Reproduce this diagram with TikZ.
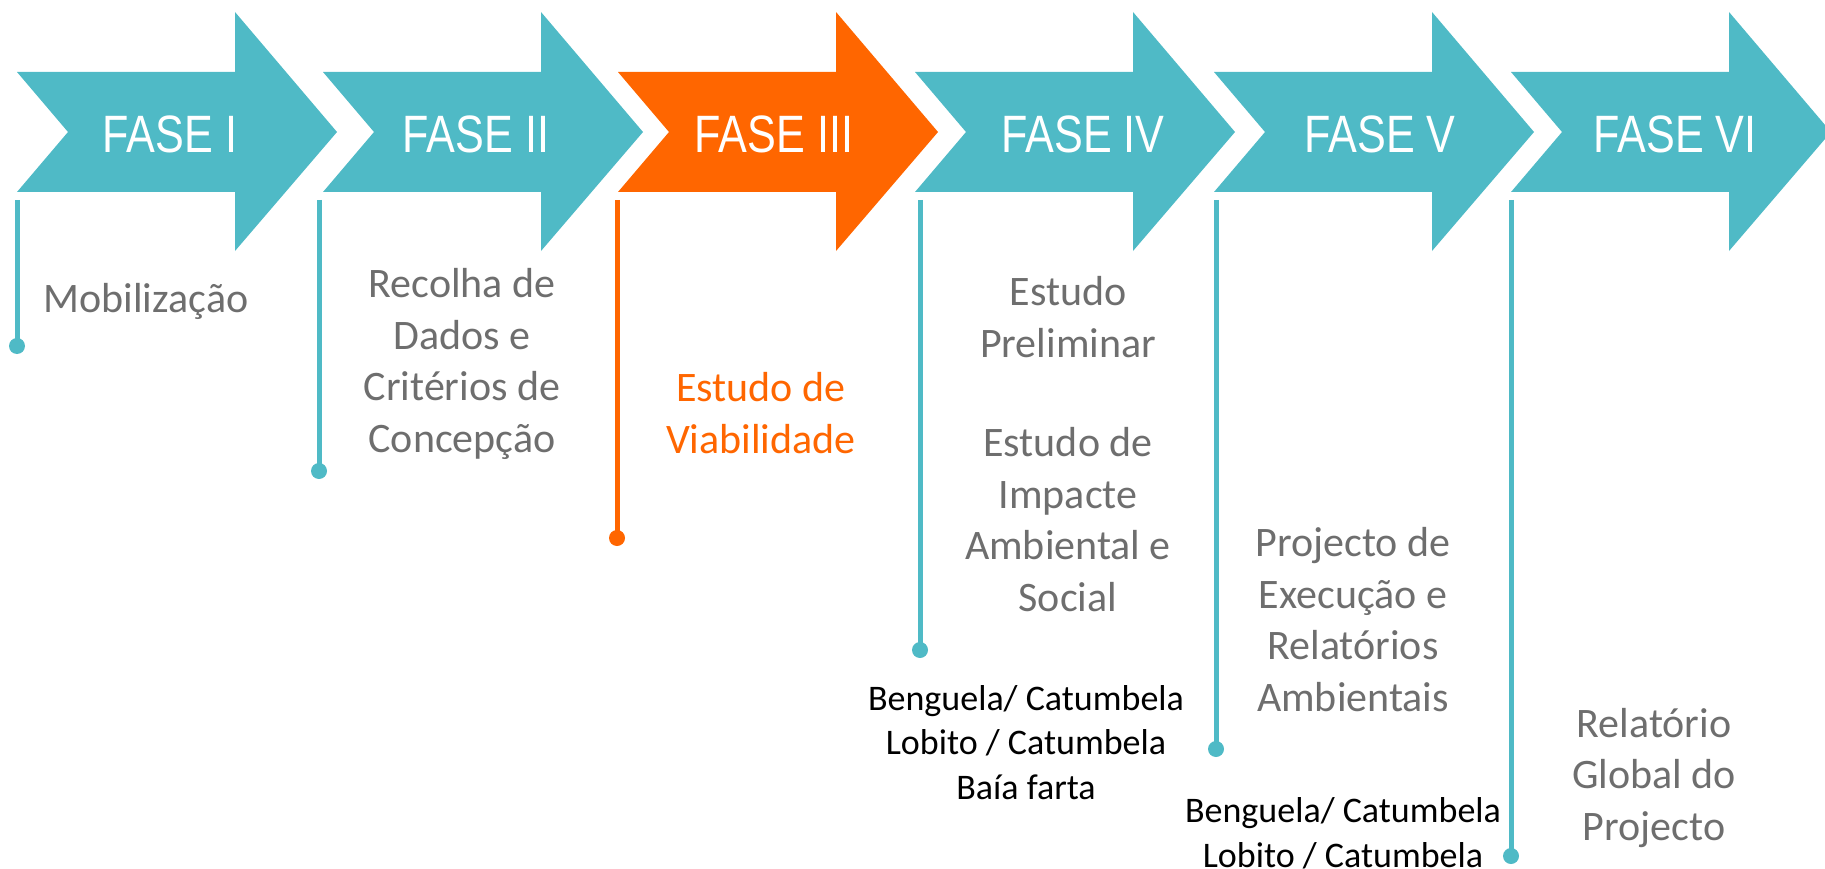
\documentclass[tikz,border=0pt]{standalone}
\usepackage{fontspec}
\setmainfont{Carlito}
\newfontfamily\fasefont[FakeStretch=0.82]{Liberation Sans}
\definecolor{faseteal}{RGB}{79,186,198}
\definecolor{faseorange}{RGB}{255,102,0}
\definecolor{fasegrey}{RGB}{110,110,110}
\begin{document}
\begin{tikzpicture}[x=1pt,y=-1pt,
  fasearrow/.pic={\path[pic actions] (0,72) -- (218,72) -- (218,12) -- (320,132) -- (218,251) -- (218,192) -- (0,192) -- (51,132) -- cycle;},
  fasetext/.style={font=\fasefont\fontsize{52.6}{60}\selectfont, text=white, anchor=base, inner sep=0pt},
  desc/.style={font=\fontsize{42}{51.5}\selectfont, text=fasegrey, align=center, anchor=base, inner sep=0pt},
  place/.style={font=\fontsize{36}{44.5}\selectfont, text=black, align=center, anchor=base, inner sep=0pt},
  stem/.style={line width=5pt},
  stemdot/.style={circle, inner sep=0pt, minimum size=16pt, fill=#1}]
\useasboundingbox (0,0) rectangle (1825,869);
\clip (0,0) rectangle (1825,869);
% arrows
\pic[fill=faseteal] at (17,0) {fasearrow};
\pic[fill=faseteal] at (323,0) {fasearrow};
\pic[fill=faseorange] at (618,0) {fasearrow};
\pic[fill=faseteal] at (915,0) {fasearrow};
\pic[fill=faseteal] at (1214,0) {fasearrow};
\pic[fill=faseteal] at (1511,0) {fasearrow};
% arrow labels
\node[fasetext] (f1) at (170,153) {FASE I};
\node[fasetext] (f2) at (476,153) {FASE II};
\node[fasetext] (f3) at (774,153) {FASE III};
\node[fasetext] (f4) at (1083,153) {FASE IV};
\node[fasetext] (f5) at (1380,153) {FASE V};
\node[fasetext] (f6) at (1675,153) {FASE VI};
% stems
\coordinate (t1) at (17,200);
\coordinate (t2) at (319,200);
\coordinate (t3) at (617,200);
\coordinate (t4) at (920,200);
\coordinate (t5) at (1216,200);
\coordinate (t6) at (1511,200);
\node[stemdot=faseteal] (d1) at (17,346) {};
\node[stemdot=faseteal] (d2) at (319,471) {};
\node[stemdot=faseorange] (d3) at (617,538) {};
\node[stemdot=faseteal] (d4) at (920,650) {};
\node[stemdot=faseteal] (d5) at (1216,749) {};
\node[stemdot=faseteal] (d6) at (1511,856) {};
\draw[stem, faseteal] (t1) -- (d1.center);
\draw[stem, faseteal] (t2) -- (d2.center);
\draw[stem, faseorange] (t3) -- (d3.center);
\draw[stem, faseteal] (t4) -- (d4.center);
\draw[stem, faseteal] (t5) -- (d5.center);
\draw[stem, faseteal] (t6) -- (d6.center);
% descriptions (anchor base = last line's baseline)
\node[desc] (mob) at (146,312) {Mobilização};
\node[desc] (rec) at (462,452) {Recolha de\\Dados e\\Critérios de\\Concepção};
\node[desc, text=faseorange] (viab) at (761,453) {Estudo de\\Viabilidade};
\node[desc] (pre) at (1068,611) {Estudo\\Preliminar\\[48pt]Estudo de\\Impacte\\Ambiental e\\Social};
\node[desc] (proj) at (1353,711) {Projecto de\\Execução e\\Relatórios\\Ambientais};
\node[desc] (rel) at (1654,840) {Relatório\\Global do\\Projecto};
\node[place] (loc1) at (1026,799) {Benguela/ Catumbela\\Lobito / Catumbela\\Baía farta};
\node[place] (loc2) at (1343,867) {Benguela/ Catumbela\\Lobito / Catumbela};
\end{tikzpicture}
\end{document}
